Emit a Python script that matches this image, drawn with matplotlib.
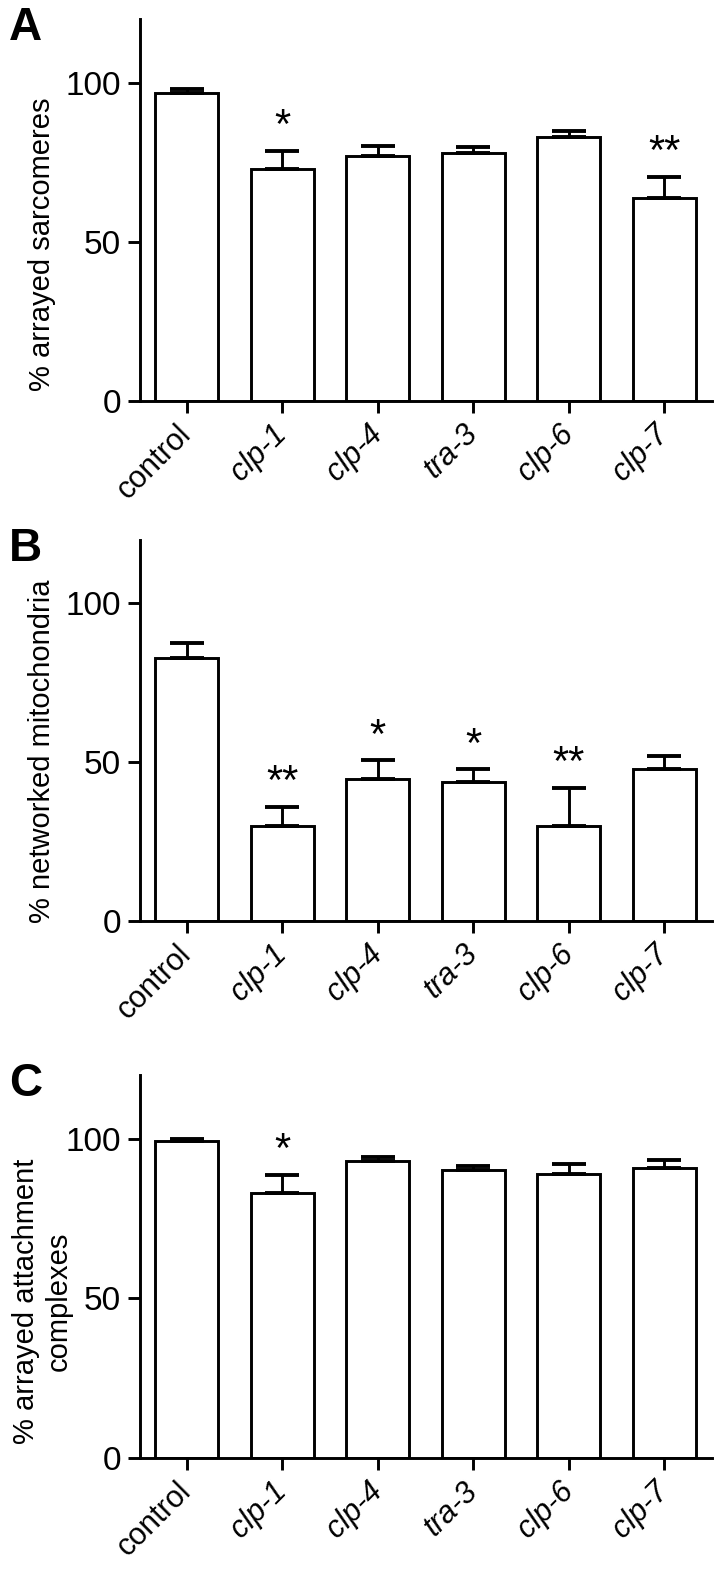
import matplotlib
matplotlib.use("Agg")
import matplotlib.pyplot as plt
import matplotlib.transforms as mtransforms
import numpy as np

plt.rcParams['font.family'] = ['Liberation Sans', 'DejaVu Sans']

# Data
categories = ['control', 'clp-1', 'clp-4', 'tra-3', 'clp-6', 'clp-7']

sarcomeres = [96.7, 72.8, 77.0, 77.9, 82.9, 63.8]
sarcomeres_err = [1.3, 5.8, 3.1, 1.8, 2.0, 6.7]
sarcomeres_stars = ['', '*', '', '', '', '**']

mitochondria = [82.8, 29.8, 44.8, 43.8, 29.8, 47.8]
mitochondria_err = [4.7, 6.1, 5.8, 3.9, 12.2, 4.1]
mitochondria_stars = ['', '**', '*', '*', '**', '']

attachment = [99.3, 83.1, 93.1, 90.2, 89.1, 91.0]
attachment_err = [0.8, 5.5, 1.1, 1.4, 2.9, 2.4]
attachment_stars = ['', '*', '', '', '', '']

panels = [
    ('A', sarcomeres, sarcomeres_err, sarcomeres_stars,
     '% arrayed sarcomeres', [0.1931, 0.7446, 0.789, 0.2433], -0.147, 0.41),
    ('B', mitochondria, mitochondria_err, mitochondria_stars,
     '% networked mitochondria', [0.1931, 0.4134, 0.789, 0.2427], -0.147, 0.445),
    ('C', attachment, attachment_err, attachment_stars,
     '% arrayed attachment\ncomplexes', [0.1931, 0.0713, 0.789, 0.2440], -0.117, 0.41),
]

fig = plt.figure(figsize=(7.25, 15.7), dpi=100)
narrow = ['Liberation Sans Narrow', 'Liberation Sans', 'DejaVu Sans']
x = np.arange(len(categories))
shift = mtransforms.ScaledTranslation(5 / 100, 0, fig.dpi_scale_trans)

for letter, vals, errs, stars, ylabel, rect, ylab_x, ylab_y in panels:
    ax = fig.add_axes(rect)
    ax.bar(x, vals, width=0.66, color='white', edgecolor='black',
           linewidth=2.1, zorder=2)
    # one-sided (upward) error bars
    ax.errorbar(x, vals, yerr=[np.zeros(len(vals)), errs], fmt='none',
                ecolor='black', elinewidth=2.1, capsize=12, capthick=2.8,
                zorder=3)
    for i, s in enumerate(stars):
        if s:
            ax.text(x[i], vals[i] + errs[i] + 4.0, s, ha='center',
                    va='baseline', fontsize=30)

    ax.set_xlim(-0.49, 5.5)
    ax.set_ylim(0, 120)
    ax.set_yticks([0, 50, 100])
    ax.set_yticklabels(['0', '50', '100'], family=narrow, fontsize=24)
    ax.set_xticks(x)
    ax.set_xticklabels(categories, rotation=45, ha='right', va='center',
                       rotation_mode='anchor', fontsize=22)
    for lab in ax.get_xticklabels():
        lab.set_transform(lab.get_transform() + shift)
        if lab.get_text() != 'control':
            lab.set_fontstyle('italic')

    for side in ['top', 'right']:
        ax.spines[side].set_visible(False)
    for side in ['left', 'bottom']:
        ax.spines[side].set_linewidth(2.1)
    ax.tick_params(axis='both', width=2.1, length=8.5, pad=5)
    ax.tick_params(axis='x', pad=12)

    ax.set_ylabel(ylabel, fontsize=21, linespacing=1.25)
    ax.yaxis.set_label_coords(ylab_x, ylab_y)

    top = rect[1] + rect[3]
    fig.text(0.012, top + 0.0085, letter, family=narrow, fontweight='bold',
             fontsize=33, ha='left', va='top')

fig.savefig('out.png', dpi=100)
